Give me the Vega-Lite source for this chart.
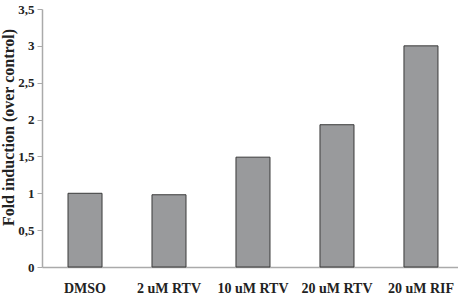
{
  "$schema": "https://vega.github.io/schema/vega-lite/v6.json",
  "width": 416,
  "height": 258,
  "autosize": "none",
  "padding": {"left": 42, "top": 9, "right": 0, "bottom": 29},
  "background": "white",
  "config": {"view": {"stroke": null}, "font": "Liberation Serif"},
  "data": {"values": [
    {"group": "DMSO", "fold": 1.0},
    {"group": "2 uM RTV", "fold": 0.98},
    {"group": "10 uM RTV", "fold": 1.49},
    {"group": "20 uM RTV", "fold": 1.93},
    {"group": "20 uM RIF", "fold": 3.0}
  ]},
  "mark": {"type": "bar", "fill": "#999a9c", "stroke": "#3a3a3a", "strokeWidth": 1},
  "encoding": {
    "x": {
      "field": "group", "type": "nominal", "sort": null,
      "scale": {"paddingInner": 0.595, "paddingOuter": 0.274, "align": 0.565},
      "axis": {"title": null, "labelAngle": 0, "ticks": false, "labelPadding": 14,
        "labelFont": "Liberation Serif", "labelFontWeight": "bold", "labelFontSize": 14,
        "labelColor": "#222", "domainColor": "#aaaaaa", "domainWidth": 1.5}
    },
    "y": {
      "field": "fold", "type": "quantitative",
      "scale": {"domain": [0, 3.5]},
      "axis": {"title": "Fold induction (over control)", "values": [0, 0.5, 1, 1.5, 2, 2.5, 3, 3.5],
        "labelExpr": "replace('' + datum.value, '.', ',')",
        "grid": false, "tickSize": 5, "tickColor": "#aaaaaa", "domainColor": "#aaaaaa", "domainWidth": 1.5,
        "labelFont": "Liberation Serif", "labelFontWeight": "bold", "labelFontSize": 13, "labelColor": "#222", "labelPadding": 3,
        "titleFont": "Liberation Serif", "titleFontWeight": "bold", "titleFontSize": 16, "titleColor": "#222",
        "titleX": -26, "titleY": 118}
    }
  }
}
